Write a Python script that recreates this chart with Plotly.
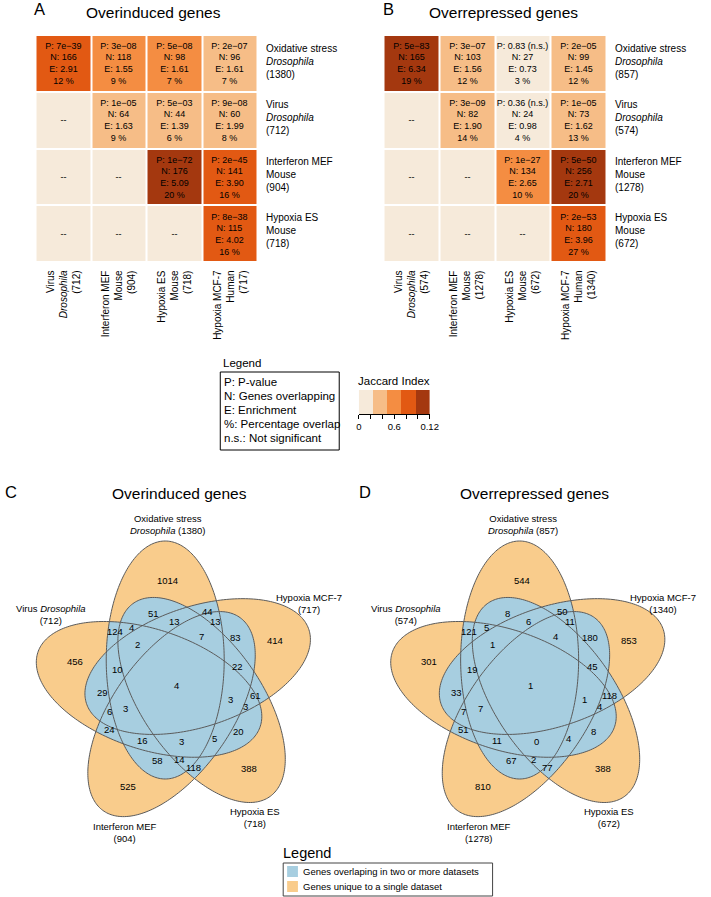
import numpy as np
import plotly.graph_objects as go

FONT = "Liberation Sans, Arial, sans-serif"

# ---------------- data: heatmaps ----------------
A_rows = ["Oxidative stress<br><i>Drosophila</i><br>(1380)", "Virus<br><i>Drosophila</i><br>(712)",
          "Interferon MEF<br>Mouse<br>(904)", "Hypoxia ES<br>Mouse<br>(718)"]
A_cols = ["Virus<br><i>Drosophila</i><br>(712)", "Interferon MEF<br>Mouse<br>(904)",
          "Hypoxia ES<br>Mouse<br>(718)", "Hypoxia MCF-7<br>Human<br>(717)"]
A_p = [["7e−39", "3e−08", "5e−08", "2e−07"], [None, "1e−05", "5e−03", "9e−08"],
       [None, None, "1e−72", "2e−45"], [None, None, None, "8e−38"]]
A_n = [[166, 118, 98, 96], [None, 64, 44, 60], [None, None, 176, 141], [None, None, None, 115]]
A_e = [["2.91", "1.55", "1.61", "1.61"], [None, "1.63", "1.39", "1.99"],
       [None, None, "5.09", "3.90"], [None, None, None, "4.02"]]
A_pct = [[12, 9, 7, 7], [None, 9, 6, 8], [None, None, 20, 16], [None, None, None, 16]]
A_jac = [[0.086, 0.055, 0.050, 0.046], [0, 0.041, 0.032, 0.044],
         [0, 0, 0.122, 0.095], [0, 0, 0, 0.087]]

B_rows = ["Oxidative stress<br><i>Drosophila</i><br>(857)", "Virus<br><i>Drosophila</i><br>(574)",
          "Interferon MEF<br>Mouse<br>(1278)", "Hypoxia ES<br>Mouse<br>(672)"]
B_cols = ["Virus<br><i>Drosophila</i><br>(574)", "Interferon MEF<br>Mouse<br>(1278)",
          "Hypoxia ES<br>Mouse<br>(672)", "Hypoxia MCF-7<br>Human<br>(1340)"]
B_p = [["5e−83", "3e−07", "0.83 (n.s.)", "2e−05"], [None, "3e−09", "0.36 (n.s.)", "1e−05"],
       [None, None, "1e−27", "5e−50"], [None, None, None, "2e−53"]]
B_n = [[165, 103, 27, 99], [None, 82, 24, 73], [None, None, 134, 256], [None, None, None, 180]]
B_e = [["6.34", "1.56", "0.73", "1.45"], [None, "1.90", "0.98", "1.62"],
       [None, None, "2.65", "2.71"], [None, None, None, "3.96"]]
B_pct = [[19, 12, 3, 12], [None, 14, 4, 13], [None, None, 10, 20], [None, None, None, 27]]
B_jac = [[0.130, 0.047, 0.018, 0.045], [0, 0.040, 0.020, 0.042],
         [0, 0, 0.060, 0.105], [0, 0, 0, 0.090]]

JAC_BINS = [0.012, 0.036, 0.060, 0.084, 0.108]
JAC_TICKS = [0, 0.02, 0.04, 0.06, 0.08, 0.10, 0.12]
JAC_TICKTEXT = ["0", "", "", "0.6", "", "", "0.12"]
JAC_COLORS = ["#F6EADA", "#F6BD87", "#F48D42", "#E25913", "#A4380F"]

# ---------------- data: Venn diagrams ----------------
venn_C = [1014, 51, 44, 124, 4, 13, 13, 7, 83, 414, 2, 456, 10, 22, 4, 29, 61, 3, 3, 6, 3,
          24, 20, 16, 3, 5, 58, 14, 118, 388, 525]
venn_D = [544, 8, 50, 121, 5, 6, 11, 4, 180, 853, 1, 301, 19, 45, 1, 33, 118, 1, 4, 7, 7,
          51, 8, 11, 0, 4, 67, 2, 77, 388, 810]
venn_C_sets = ["Oxidative stress<br><i>Drosophila</i> (1380)", "Hypoxia MCF-7<br>(717)",
               "Hypoxia ES<br>(718)", "Interferon MEF<br>(904)", "Virus <i>Drosophila</i><br>(712)"]
venn_D_sets = ["Oxidative stress<br><i>Drosophila</i> (857)", "Hypoxia MCF-7<br>(1340)",
               "Hypoxia ES<br>(672)", "Interferon MEF<br>(1278)", "Virus <i>Drosophila</i><br>(574)"]

# ---------------- layout constants (pixels of the target picture) ----------------
W, H = 711, 897
SH = 0
ORANGE = "#F9CC8C"
BLUE = "#A7CEE0"
OUTLINE = "#5B5B5B"

REGION_POS = [(-9.3, -105.3), (-24.3, -72.7), (31.3, -75), (-63, -54.3), (-46, -58.3), (-3, -64.3),
              (39, -64.3), (24.7, -49.3), (59.7, -48.3), (99.7, -45.3), (-39.7, -42), (-103.7, -25),
              (-60.3, -16.7), (62, -19.3), (-1, -1), (-76.3, 6.7), (79.7, 9), (54, 13.3), (69.7, 20),
              (-68.7, 25.7), (-52, 22.3), (-68.7, 43.3), (63, 45.7), (-35.3, 54), (4.7, 55.7),
              (38, 52.3), (-20.3, 74), (2.3, 73.3), (16.3, 81.3), (73, 82), (-49.7, 100)]
SET_LABEL_POS = [(-9, -162), (134, -83), (79, 131), (-53, 146), (-128, -72)]

ELL_A, ELL_B = 119.0, 60.0
ELL_OFF = (-12.0, -26.0)


def ellipse_pts(cx, cy, ux, uy, n=240):
    t = np.linspace(0, 2 * np.pi, n, endpoint=False)
    vx, vy = -uy, ux
    xs = cx + ELL_A * np.cos(t) * ux + ELL_B * np.sin(t) * vx
    ys = cy + ELL_A * np.cos(t) * uy + ELL_B * np.sin(t) * vy
    return list(zip(xs.tolist(), ys.tolist()))


def venn_ellipses(cx, cy):
    out = []
    for k in range(5):
        th = np.deg2rad(72 * k)
        c, s = np.cos(th), np.sin(th)
        ox = ELL_OFF[0] * c - ELL_OFF[1] * s
        oy = ELL_OFF[0] * s + ELL_OFF[1] * c
        out.append(ellipse_pts(cx + ox, cy + oy, s, -c))
    return out


def signed_area(poly):
    a = 0.0
    for i in range(len(poly)):
        x1, y1 = poly[i]
        x2, y2 = poly[(i + 1) % len(poly)]
        a += x1 * y2 - x2 * y1
    return a / 2


def clip(subject, clipper):
    sg = 1 if signed_area(clipper) > 0 else -1

    def inside(p, a, b):
        return sg * ((b[0] - a[0]) * (p[1] - a[1]) - (b[1] - a[1]) * (p[0] - a[0])) >= 0

    def inter(p, q, a, b):
        x1, y1 = p; x2, y2 = q; x3, y3 = a; x4, y4 = b
        den = (x1 - x2) * (y3 - y4) - (y1 - y2) * (x3 - x4)
        if abs(den) < 1e-12:
            return q
        t = ((x1 - x3) * (y3 - y4) - (y1 - y3) * (x3 - x4)) / den
        return (x1 + t * (x2 - x1), y1 + t * (y2 - y1))

    out = subject
    n = len(clipper)
    for i in range(n):
        a, b = clipper[i], clipper[(i + 1) % n]
        inp, out = out, []
        if not inp:
            break
        s = inp[-1]
        for e in inp:
            if inside(e, a, b):
                if not inside(s, a, b):
                    out.append(inter(s, e, a, b))
                out.append(e)
            elif inside(s, a, b):
                out.append(inter(s, e, a, b))
            s = e
    return out


def path_of(poly):
    return "M " + " L ".join(f"{x:.2f},{y:.2f}" for x, y in poly) + " Z"


shapes = []
annotations = []


def ann(x, y, text, size, xanchor="center", yanchor="middle", align="center", **kw):
    d = dict(x=x, y=y, xref="x3", yref="y3", text=text, showarrow=False, xanchor=xanchor,
             yanchor=yanchor, align=align, font=dict(family=FONT, size=size, color="black"))
    d.update(kw)
    annotations.append(d)


def draw_venn(cx, cy, values, set_labels, title, letter):
    ells = venn_ellipses(cx, cy)
    for e in ells:
        shapes.append(dict(type="path", xref="x3", yref="y3", path=path_of(e),
                           fillcolor=ORANGE, line=dict(width=0), layer="above"))
    for i in range(5):
        for j in range(i + 1, 5):
            p = clip(ells[i], ells[j])
            if len(p) > 2:
                shapes.append(dict(type="path", xref="x3", yref="y3", path=path_of(p),
                                   fillcolor=BLUE, line=dict(width=0), layer="above"))
    for e in ells:
        shapes.append(dict(type="path", xref="x3", yref="y3", path=path_of(e),
                           fillcolor="rgba(0,0,0,0)", line=dict(color=OUTLINE, width=1), layer="above"))
    for v, (dx, dy) in zip(values, REGION_POS):
        ann(cx + dx, cy + dy, str(v), 9.5)
    for lab, (dx, dy) in zip(set_labels, SET_LABEL_POS):
        ann(cx + dx, cy + dy, lab, 9.5)
    ann(cx + 3, 493, title, 15.5)
    ann(cx - 169, 492, letter, 16.5, xanchor="center")


draw_venn(177, 686, venn_C, venn_C_sets, "Overinduced genes", "C")
draw_venn(537.5, 686, venn_D, venn_D_sets, "Overrepressed genes", "D")

# ---------------- heatmaps ----------------
colorscale = []
for i, c in enumerate(JAC_COLORS):
    colorscale.append([i / 5, c])
    colorscale.append([(i + 1) / 5, c])


def cell_text(P, N, E, PCT):
    out = []
    for r in range(4):
        row = []
        for c in range(4):
            if P[r][c] is None:
                row.append("--")
            else:
                row.append(f"P: {P[r][c]}<br>N: {N[r][c]}<br>E: {E[r][c]}<br>{PCT[r][c]} %")
        out.append(row)
    return out


traces = []
HM = [("x", "y", A_jac, cell_text(A_p, A_n, A_e, A_pct)),
      ("x2", "y2", B_jac, cell_text(B_p, B_n, B_e, B_pct))]
for xa, ya, z, txt in HM:
    traces.append(go.Heatmap(z=z, x=[0, 1, 2, 3], y=[0, 1, 2, 3], text=txt, texttemplate="%{text}",
                             textfont=dict(family=FONT, size=9, color="black"),
                             colorscale=colorscale, zmin=0, zmax=0.12, showscale=False,
                             xgap=2, ygap=2, xaxis=xa, yaxis=ya, hoverinfo="skip"))

traces.append(go.Heatmap(z=[JAC_BINS], x=JAC_BINS, y=[0], colorscale=colorscale, zmin=0, zmax=0.12,
                         showscale=False, xaxis="x4", yaxis="y4", hoverinfo="skip"))

GRID = {"A": (33, 259), "B": (387, 614)}
TOP, BOT = 35, 262
cw = (GRID["A"][1] - GRID["A"][0]) / 4
for key, rows, cols in (("A", A_rows, A_cols), ("B", B_rows, B_cols)):
    x0, x1 = GRID[key]
    for i, lab in enumerate(rows):
        ann(x1 + 6, TOP + cw * (i + 0.5) - 2, lab, 10, xanchor="left", align="left")
    for j, lab in enumerate(cols):
        ann(x0 + cw * (j + 0.5), 268, lab, 10, yanchor="top", align="right", textangle=-90)

ann(37, 9, "A", 16.5)
ann(153, 12, "Overinduced genes", 15.5)
ann(392, 9, "B", 16.5)
ann(509, 12, "Overrepressed genes", 15.5)

ann(222, 363, "Legend", 11.5, xanchor="left")
shapes.append(dict(type="rect", xref="x3", yref="y3", x0=221, x1=342, y0=372, y1=450,
                   line=dict(color="black", width=1), fillcolor="rgba(0,0,0,0)"))
leg_lines = ["P: P-value", "N: Genes overlapping", "E: Enrichment", "%: Percentage overlap",
             "n.s.: Not significant"]
for k, t in enumerate(leg_lines):
    ann(223, 382 + 14 * k, t, 11.5, xanchor="left")
ann(398, 381, "Jaccard Index", 11.5)

ann(283, 853, "Legend", 14.5, xanchor="left")
shapes.append(dict(type="rect", xref="x3", yref="y3", x0=285, x1=498, y0=863, y1=896,
                   line=dict(color="#444", width=1), fillcolor="rgba(0,0,0,0)"))
shapes.append(dict(type="rect", xref="x3", yref="y3", x0=289, x1=300, y0=866, y1=877,
                   line=dict(width=0), fillcolor=BLUE))
shapes.append(dict(type="rect", xref="x3", yref="y3", x0=289, x1=300, y0=881, y1=892,
                   line=dict(width=0), fillcolor=ORANGE))
ann(303, 871.5, "Genes overlaping in two or more datasets", 9.5, xanchor="left")
ann(303, 886.5, "Genes unique to a single dataset", 9.5, xanchor="left")


def dx(a, b):
    return [(a - SH) / W, (b - SH) / W]


def dy(top, bot):
    return [1 - (bot - SH) / H, 1 - (top - SH) / H]


hide = dict(visible=False, fixedrange=True)
layout = dict(
    width=W, height=H, margin=dict(l=0, r=0, t=0, b=0),
    paper_bgcolor="white", plot_bgcolor="rgba(0,0,0,0)", showlegend=False,
    font=dict(family=FONT, color="black"),
    xaxis=dict(domain=dx(*GRID["A"]), range=[-0.5, 3.5], anchor="y", **hide),
    yaxis=dict(domain=dy(TOP, BOT), range=[3.5, -0.5], anchor="x", **hide),
    xaxis2=dict(domain=dx(*GRID["B"]), range=[-0.5, 3.5], anchor="y2", **hide),
    yaxis2=dict(domain=dy(TOP, BOT), range=[3.5, -0.5], anchor="x2", **hide),
    xaxis3=dict(domain=[0, 1], range=[SH, W + SH], anchor="y3", **hide),
    yaxis3=dict(domain=[0, 1], range=[H + SH, SH], anchor="x3", **hide),
    xaxis4=dict(domain=dx(362, 434), range=[0, 0.12], anchor="y4", tickvals=JAC_TICKS,
                ticktext=JAC_TICKTEXT, ticks="outside", ticklen=4, tickcolor="black",
                showline=True, linecolor="black", linewidth=1, showgrid=False, zeroline=False,
                tickfont=dict(family=FONT, size=9.5, color="black"), fixedrange=True),
    yaxis4=dict(domain=dy(390, 414), range=[-0.5, 0.5], anchor="x4", **hide),
    shapes=shapes, annotations=annotations,
)

fig = go.Figure(data=traces, layout=layout)
fig.write_html("out.html", config={"displayModeBar": False, "staticPlot": True},
               post_script="document.body.style.margin='0px';")
